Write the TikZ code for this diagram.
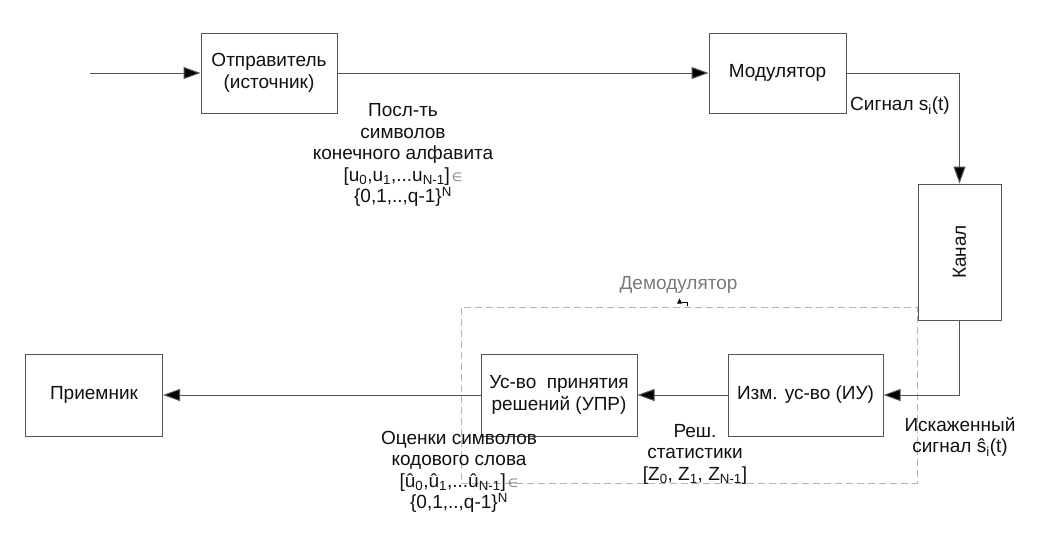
\documentclass[tikz,border=0pt]{standalone}
\usepackage{fontspec}
\setmainfont{Liberation Sans}
\newfontfamily\symfont{DejaVu Sans}
\usetikzlibrary{arrows.meta}
\definecolor{boxline}{HTML}{555555}
\definecolor{dashline}{HTML}{B4B4B4}
\definecolor{demodtext}{HTML}{7A7A7A}
\definecolor{txt}{HTML}{111111}
\newcommand{\elem}{{\symfont\fontsize{12}{12}\selectfont\color{demodtext}\,∈}}
\tikzset{
  blk/.style={draw=boxline, line width=1pt, fill=white, rectangle, align=center,
    text=txt, font=\fontsize{19}{22}\selectfont, inner sep=2pt},
  arr/.style={draw=boxline, line width=1pt, -{Triangle[length=17pt,width=12pt,fill=black]}},
  lbl/.style={align=center, text=txt, font=\fontsize{19}{21.5}\selectfont, inner sep=0pt},
  dbox/.style={draw=dashline, line width=1pt, dash pattern=on 7pt off 4pt, rectangle, inner sep=0pt},
}
\begin{document}
\begin{tikzpicture}[x=1pt,y=-1pt]
\useasboundingbox (0,0) rectangle (1056,552);
% demodulator container
\node[dbox, minimum width=456pt, minimum height=176pt] (demod) at (689,395) {};
\node[lbl, text=demodtext] (demodlbl) at (678.5,285) {Демодулятор};
\fill[black] (677,303.5) -- (682,303.5) -- (679.5,298.5) -- cycle;
\draw[black, line width=0.8pt] (682,302) -- (687.5,302) -- (687.5,306);
% blocks
\node[blk, minimum width=136pt, minimum height=80pt] (src) at (269,73) {Отправитель\\(источник)};
\node[blk, minimum width=137pt, minimum height=80pt] (mod) at (777.5,73) {Модулятор};
\node[blk, minimum width=83pt, minimum height=136pt] (chan) at (959.5,252) {\rotatebox{90}{Канал}};
\node[blk, minimum width=155pt, minimum height=82pt] (iu) at (805.5,395) {Изм. ус-во (ИУ)};
\node[blk, minimum width=156pt, minimum height=82pt] (upr) at (559,395) {Ус-во\ \ принятия\\решений (УПР)};
\node[blk, minimum width=137pt, minimum height=82pt] (rcv) at (94,395) {Приемник};
% connectors
\coordinate (in) at (90,73);
\draw[arr] (in) -- (src.west);
\draw[arr] (src.east) -- (mod.west);
\draw[arr] (mod.east) -| (chan.north);
\draw[arr] (chan.south) |- (iu.east);
\draw[arr] (iu.west) -- (upr.east);
\draw[arr] (upr.west) -- (rcv.east);
% labels
\node[lbl] (l1) at (403,155) {Посл-ть\\символов\\конечного алфавита\\{}[u\textsubscript{0},u\textsubscript{1},...u\textsubscript{N-1}]\elem\\\{0,1,..,q-1\}\textsuperscript{N}};
\node[lbl] (l2) at (900,106) {Сигнал s\textsubscript{i}(t)};
\node[lbl] (l3) at (960,437) {Искаженный\\сигнал ŝ\textsubscript{i}(t)};
\node[lbl] (l4) at (695,454) {Реш.\\статистики\\{}[Z\textsubscript{0}, Z\textsubscript{1}, Z\textsubscript{N-1}]};
\node[lbl] (l5) at (459,472) {Оценки символов\\кодового слова\\{}[û\textsubscript{0},û\textsubscript{1},...û\textsubscript{N-1}]\elem\\\{0,1,..,q-1\}\textsuperscript{N}};
\end{tikzpicture}
\end{document}
